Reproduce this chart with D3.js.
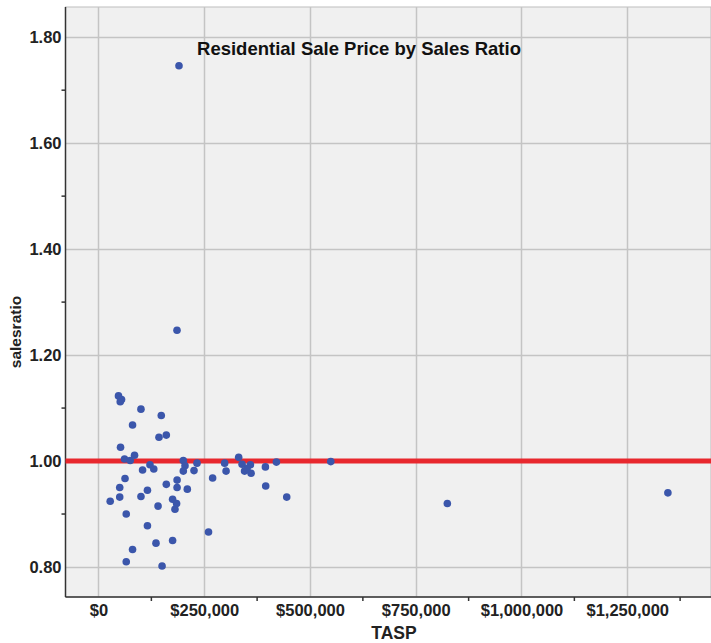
<!DOCTYPE html>
<html>
<head>
<meta charset="utf-8">
<style>
  body { margin: 0; background: #fff; }
  svg text { font-family: "Liberation Sans", Arial, sans-serif; }
</style>
</head>
<body>
<svg id="chart" width="711" height="643"></svg>

<script src="https://d3js.org/d3.v7.min.js"></script>
<script>
// sale price (TASP) and sales ratio
var tasp = [47300, 54500, 51400, 100400, 148400, 80500, 143000, 160300, 52100, 85200,
  61500, 75000, 121700, 104200, 130700, 200500, 204500, 200500, 225800, 232900,
  298200, 301600, 269800, 62700, 50200, 115700, 160300, 185800, 185800, 210000,
  27700, 50200, 100400, 175200, 184600, 180800, 140800, 65600, 115700, 260100,
  135900, 175200, 80500, 65600, 150300, 331400, 339400, 359100, 345300, 360700,
  351300, 394600, 420600, 395300, 445000, 549100, 824700, 1346100, 190300, 185600];
var salesratio = [1.123, 1.116, 1.112, 1.098, 1.086, 1.068, 1.045, 1.049, 1.026, 1.011,
  1.004, 1.001, 0.993, 0.983, 0.985, 1.001, 0.991, 0.981, 0.982, 0.996,
  0.996, 0.981, 0.968, 0.967, 0.950, 0.945, 0.956, 0.964, 0.950, 0.947,
  0.924, 0.932, 0.933, 0.928, 0.920, 0.909, 0.915, 0.900, 0.878, 0.866,
  0.845, 0.850, 0.833, 0.810, 0.802, 1.007, 0.994, 0.993, 0.981, 0.977,
  0.986, 0.989, 0.998, 0.953, 0.932, 0.999, 0.920, 0.940, 1.746, 1.247];

var xTicks = [0, 250000, 500000, 750000, 1000000, 1250000];
var xMinor = [125000, 375000, 625000, 875000, 1125000, 1375000];
var yTicks = [0.8, 1.0, 1.2, 1.4, 1.6, 1.8];
var yMinor = [0.9, 1.1, 1.3, 1.5, 1.7];
var refLine = 1.0;
var title = "Residential Sale Price by Sales Ratio";

// plot box (note: "top" is taken by window.top)
var pLeft = 65.5, pTop = 7, pRight = 711, pBottom = 597;
var narrow = "'Liberation Sans Narrow', 'Liberation Sans', Arial, sans-serif";
var svg = d3.select("#chart");

var x = d3.scaleLinear().domain([-78000, 1448000]).range([pLeft, pRight]);
var y = d3.scaleLinear().domain([0.7434, 1.857]).range([pBottom, pTop]);

// plot background
svg.append("rect")
  .attr("x", pLeft).attr("y", pTop)
  .attr("width", pRight - pLeft).attr("height", pBottom - pTop)
  .attr("fill", "#f0f0f0")
  .attr("stroke", "#bdbdbd");

// grid lines
svg.append("g").selectAll("line").data(xTicks).join("line")
  .attr("x1", d => Math.round(x(d)) + 0.5).attr("x2", d => Math.round(x(d)) + 0.5)
  .attr("y1", pTop).attr("y2", pBottom)
  .attr("stroke", "#c4c4c4").attr("stroke-width", 1.5);

svg.append("g").selectAll("line").data(yTicks).join("line")
  .attr("x1", pLeft).attr("x2", pRight)
  .attr("y1", d => Math.round(y(d)) + 0.5).attr("y2", d => Math.round(y(d)) + 0.5)
  .attr("stroke", "#c4c4c4").attr("stroke-width", 1.5);

// axes
var xAxis = d3.axisBottom(x).tickValues(xTicks).tickSize(0).tickPadding(9)
  .tickFormat(d => d === 0 ? "$0" : "$" + d3.format(",")(d));
var gx = svg.append("g").attr("transform", "translate(0," + pBottom + ")").call(xAxis);
gx.select(".domain").remove();
gx.selectAll("text")
  .attr("font-size", 16.5).attr("font-weight", "bold").attr("fill", "#222")
  .attr("font-family", narrow).attr("dy", "0.6em");

svg.append("g").selectAll("line").data(xMinor).join("line")
  .attr("x1", d => x(d)).attr("x2", d => x(d))
  .attr("y1", pBottom).attr("y2", pBottom + 4)
  .attr("stroke", "#333").attr("stroke-width", 1.5);

var yAxis = d3.axisLeft(y).tickValues(yTicks).tickSize(0).tickPadding(4)
  .tickFormat(d3.format(".2f"));
var gy = svg.append("g").attr("transform", "translate(" + pLeft + ",0)").call(yAxis);
gy.select(".domain").remove();
gy.selectAll("text")
  .attr("font-size", 16.5).attr("font-weight", "bold").attr("fill", "#222")
  .attr("font-family", narrow);

svg.append("g").selectAll("line").data(yMinor).join("line")
  .attr("x1", pLeft - 4).attr("x2", pLeft)
  .attr("y1", d => y(d)).attr("y2", d => y(d))
  .attr("stroke", "#333").attr("stroke-width", 1.5);

svg.append("line")
  .attr("x1", pLeft).attr("x2", pLeft).attr("y1", pTop).attr("y2", pBottom)
  .attr("stroke", "#333").attr("stroke-width", 1.5);
svg.append("line")
  .attr("x1", pLeft).attr("x2", pRight).attr("y1", pBottom).attr("y2", pBottom)
  .attr("stroke", "#333").attr("stroke-width", 1.5);

// reference line at 1.00
svg.append("line")
  .attr("x1", pLeft).attr("x2", pRight)
  .attr("y1", y(refLine)).attr("y2", y(refLine))
  .attr("stroke", "#e8282e").attr("stroke-width", 5);

// points
svg.append("g").selectAll("circle").data(d3.range(tasp.length)).join("circle")
  .attr("cx", i => x(tasp[i]))
  .attr("cy", i => y(salesratio[i]))
  .attr("r", 3.8)
  .attr("fill", "#3b56ab");

// titles
svg.append("text")
  .attr("x", 359).attr("y", 55)
  .attr("text-anchor", "middle")
  .attr("font-size", 18.5).attr("font-weight", "bold").attr("fill", "#111")
  .text(title);

svg.append("text")
  .attr("x", 394).attr("y", 639)
  .attr("text-anchor", "middle")
  .attr("font-size", 17.5).attr("font-weight", "bold").attr("fill", "#222")
  .text("TASP");

svg.append("text")
  .attr("transform", "translate(21,332) rotate(-90)")
  .attr("text-anchor", "middle")
  .attr("font-size", 15.5).attr("font-weight", "bold").attr("fill", "#222")
  .text("salesratio");
</script>
</body>
</html>
